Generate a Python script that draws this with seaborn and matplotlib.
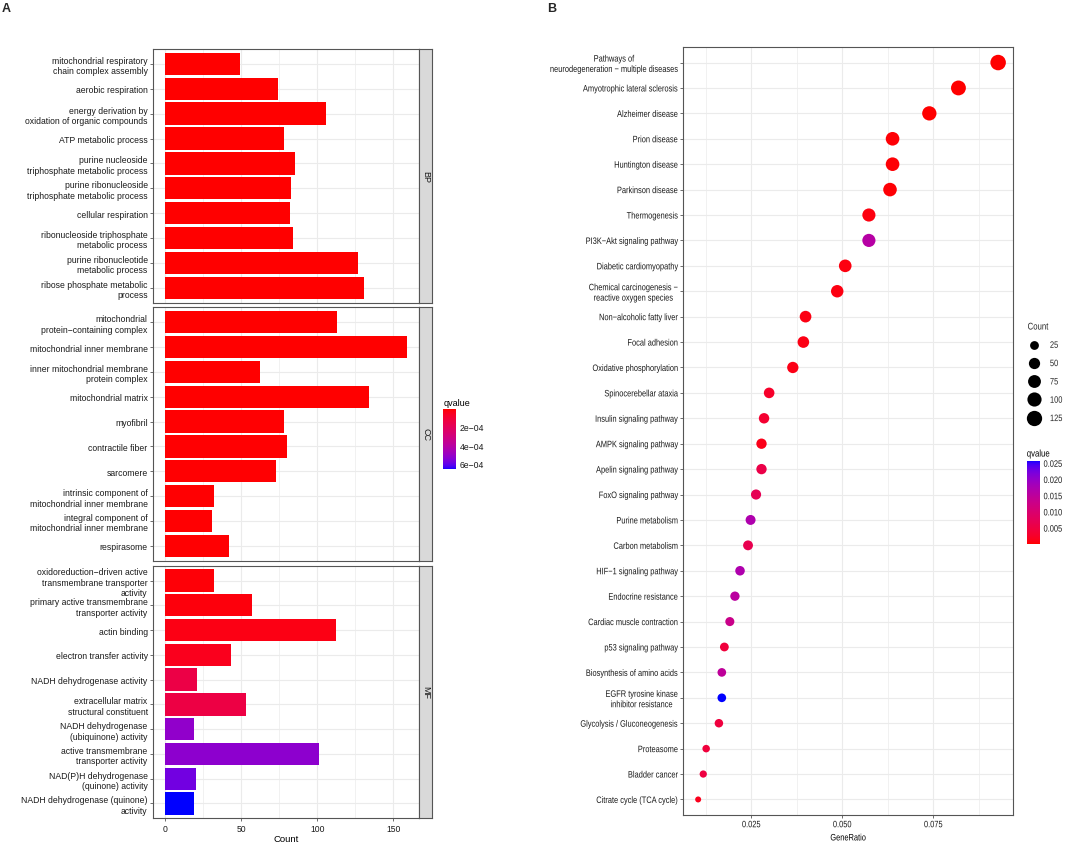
import numpy as np
import pandas as pd
import matplotlib
matplotlib.use("Agg")
import matplotlib.pyplot as plt
from matplotlib.colors import ListedColormap, Normalize
from matplotlib.lines import Line2D
from matplotlib.cm import ScalarMappable
from matplotlib.patheffects import AbstractPathEffect
from matplotlib.transforms import Affine2D
import matplotlib.ticker as mtick
import seaborn as sns

# ---- GO enrichment (panel A) ----
bp_terms = [
    "mitochondrial respiratory\nchain complex assembly",
    "aerobic respiration",
    "energy derivation by\noxidation of organic compounds",
    "ATP metabolic process",
    "purine nucleoside\ntriphosphate metabolic process",
    "purine ribonucleoside\ntriphosphate metabolic process",
    "cellular respiration",
    "ribonucleoside triphosphate\nmetabolic process",
    "purine ribonucleotide\nmetabolic process",
    "ribose phosphate metabolic\nprocess",
]
bp_counts = [49, 74, 106, 78, 85, 83, 82, 84, 127, 131]
bp_q = [1.2e-5, 1.0e-5, 1.0e-5, 1.1e-5, 1.1e-5, 1.1e-5, 1.0e-5, 1.1e-5, 1.0e-5, 1.0e-5]

cc_terms = [
    "mitochondrial\nprotein\u2212containing complex",
    "mitochondrial inner membrane",
    "inner mitochondrial membrane\nprotein complex",
    "mitochondrial matrix",
    "myofibril",
    "contractile fiber",
    "sarcomere",
    "intrinsic component of\nmitochondrial inner membrane",
    "integral component of\nmitochondrial inner membrane",
    "respirasome",
]
cc_counts = [113, 159, 62, 134, 78, 80, 73, 32, 31, 42]
cc_q = [1.0e-5, 1.0e-5, 1.2e-5, 1.0e-5, 1.3e-5, 1.3e-5, 1.4e-5, 1.5e-5, 1.5e-5, 1.3e-5]

mf_terms = [
    "oxidoreduction\u2212driven active\ntransmembrane transporter\nactivity",
    "primary active transmembrane\ntransporter activity",
    "actin binding",
    "electron transfer activity",
    "NADH dehydrogenase activity",
    "extracellular matrix\nstructural constituent",
    "NADH dehydrogenase\n(ubiquinone) activity",
    "active transmembrane\ntransporter activity",
    "NAD(P)H dehydrogenase\n(quinone) activity",
    "NADH dehydrogenase (quinone)\nactivity",
]
mf_counts = [32, 57, 112, 43, 21, 53, 19, 101, 20, 19]
mf_q = [2.0e-5, 2.5e-5, 3.5e-5, 5.0e-5, 1.45e-4, 1.4e-4, 5.2e-4, 5.3e-4, 5.8e-4, 6.6e-4]

go_q_ticks = [2e-4, 4e-4, 6e-4]

# ---- KEGG enrichment (panel B) ----
kegg_terms = [
    "Pathways of\nneurodegeneration \u2212 multiple diseases",
    "Amyotrophic lateral sclerosis",
    "Alzheimer disease",
    "Prion disease",
    "Huntington disease",
    "Parkinson disease",
    "Thermogenesis",
    "PI3K\u2212Akt signaling pathway",
    "Diabetic cardiomyopathy",
    "Chemical carcinogenesis \u2212\nreactive oxygen species",
    "Non\u2212alcoholic fatty liver",
    "Focal adhesion",
    "Oxidative phosphorylation",
    "Spinocerebellar ataxia",
    "Insulin signaling pathway",
    "AMPK signaling pathway",
    "Apelin signaling pathway",
    "FoxO signaling pathway",
    "Purine metabolism",
    "Carbon metabolism",
    "HIF\u22121 signaling pathway",
    "Endocrine resistance",
    "Cardiac muscle contraction",
    "p53 signaling pathway",
    "Biosynthesis of amino acids",
    "EGFR tyrosine kinase\ninhibitor resistance",
    "Glycolysis / Gluconeogenesis",
    "Proteasome",
    "Bladder cancer",
    "Citrate cycle (TCA cycle)",
]
kegg_ratio = [0.0928, 0.0819, 0.0739, 0.0638, 0.0638, 0.0631, 0.0573, 0.0573, 0.0508, 0.0486,
              0.0399, 0.0393, 0.0364, 0.0299, 0.0285, 0.0278, 0.0278, 0.0263, 0.0248, 0.0241,
              0.0219, 0.0205, 0.0191, 0.0176, 0.0169, 0.0169, 0.0161, 0.0126, 0.0118, 0.0104]
kegg_count = [130, 115, 103, 89, 89, 88, 80, 80, 71, 68,
              56, 55, 51, 42, 40, 39, 39, 37, 35, 34,
              31, 29, 27, 25, 24, 24, 23, 18, 17, 15]
kegg_q = [0.0001, 0.0002, 0.0002, 0.0004, 0.0004, 0.0004, 0.0008, 0.0160, 0.0008, 0.0009,
          0.0010, 0.0011, 0.0012, 0.0027, 0.0034, 0.0014, 0.0058, 0.0070, 0.0170, 0.0065,
          0.0170, 0.0155, 0.0130, 0.0045, 0.0148, 0.0258, 0.0047, 0.0045, 0.0050, 0.0016]

count_breaks = [25, 50, 75, 100, 125]
kegg_q_ticks = [0.005, 0.010, 0.015, 0.020, 0.025]


# red -> blue gradient interpolated in CIELAB (like ggplot2)
def srgb_to_lab(rgb):
    c = np.asarray(rgb, dtype=float)
    c = np.where(c <= 0.04045, c / 12.92, ((c + 0.055) / 1.055) ** 2.4)
    m = np.array([[0.4124, 0.3576, 0.1805], [0.2126, 0.7152, 0.0722], [0.0193, 0.1192, 0.9505]])
    xyz = m @ c / np.array([0.95047, 1.0, 1.08883])
    f = np.where(xyz > 0.008856, np.cbrt(xyz), 7.787 * xyz + 16 / 116)
    return np.array([116 * f[1] - 16, 500 * (f[0] - f[1]), 200 * (f[1] - f[2])])


def lab_to_srgb(lab):
    L, a, b = lab
    fy = (L + 16) / 116
    fx = fy + a / 500
    fz = fy - b / 200
    f = np.array([fx, fy, fz])
    xyz = np.where(f ** 3 > 0.008856, f ** 3, (f - 16 / 116) / 7.787)
    xyz = xyz * np.array([0.95047, 1.0, 1.08883])
    m_inv = np.array([[3.2406, -1.5372, -0.4986], [-0.9689, 1.8758, 0.0415], [0.0557, -0.2040, 1.0570]])
    c = m_inv @ xyz
    c = np.where(c <= 0.0031308, 12.92 * c, 1.055 * np.clip(c, 0, None) ** (1 / 2.4) - 0.055)
    return np.clip(c, 0, 1)


lab_red = srgb_to_lab([1, 0, 0])
lab_blue = srgb_to_lab([0, 0, 1])
red_blue = ListedColormap([lab_to_srgb(lab_red + t * (lab_blue - lab_red)) for t in np.linspace(0, 1, 256)])


# panel B text in the reference is horizontally condensed; squeeze glyph paths
class Squeeze(AbstractPathEffect):
    def __init__(self, sx=0.8, anchor="center"):
        super().__init__()
        self.sx = sx
        self.anchor = anchor

    def draw_path(self, renderer, gc, tpath, affine, rgbFace=None):
        if isinstance(self.anchor, str):
            ext = affine.transform_path(tpath).get_extents()
            x0 = ext.x0 if self.anchor == "left" else 0.5 * (ext.x0 + ext.x1)
        else:
            x0 = self.anchor
        squeeze = Affine2D().translate(-x0, 0).scale(self.sx, 1).translate(x0, 0)
        renderer.draw_path(gc, tpath, affine + squeeze, rgbFace)


sns.set_style("white")
plt.rcParams["font.family"] = ["Liberation Sans", "DejaVu Sans"]
plt.rcParams["axes.unicode_minus"] = True

TXT = "#1A1A1A"
BORDER = "#555555"
GRID = "#EBEBEB"
FS = 6.2
FSB = 6.7
SX = 0.8

fig = plt.figure(figsize=(10.65, 8.45), dpi=100)

# ---------------- Panel A ----------------
go_norm = Normalize(vmin=1.0e-5, vmax=6.6e-4)
facets = [
    ("BP", bp_terms, bp_counts, bp_q, 50.0, 303.7),
    ("CC", cc_terms, cc_counts, cc_q, 308.3, 561.7),
    ("MF", mf_terms, mf_counts, mf_q, 566.7, 819.3),
]
W, H = 1065.0, 845.0
for i, (name, terms, counts, qs, top, bot) in enumerate(facets):
    ax = fig.add_axes([153.3 / W, 1 - bot / H, 265.7 / W, (bot - top) / H])
    df = pd.DataFrame({"term": terms, "Count": counts, "qvalue": qs})
    pal = {t: red_blue(go_norm(q)) for t, q in zip(terms, qs)}
    sns.barplot(data=df, x="Count", y="term", hue="term", palette=pal, legend=False,
                width=0.9, saturation=1, linewidth=0, orient="h", ax=ax, zorder=3)
    ax.set_xlim(-7.95, 166.95)
    ax.set_ylim(9.6, -0.6)
    ax.set_xticks([0, 50, 100, 150])
    ax.xaxis.set_minor_locator(mtick.FixedLocator([25, 75, 125]))
    ax.grid(True, which="major", color=GRID, lw=0.8, zorder=0)
    ax.grid(True, which="minor", axis="x", color=GRID, lw=0.5, zorder=0)
    ax.set_axisbelow(True)
    ax.set_ylabel("")
    ax.tick_params(axis="y", left=True, length=2.5, width=0.5, color="#333333",
                   labelsize=FS, labelcolor=TXT, pad=1.5)
    ax.tick_params(axis="x", which="minor", bottom=False)
    if i < 2:
        ax.tick_params(axis="x", bottom=False, labelbottom=False)
        ax.set_xlabel("")
    else:
        ax.tick_params(axis="x", bottom=True, length=2.5, width=0.5, color="#333333",
                       labelsize=FS, labelcolor=TXT, pad=1.5)
        ax.set_xlabel("Count", fontsize=6.8, color="black", labelpad=1)
    for sp in ax.spines.values():
        sp.set_color(BORDER)
        sp.set_linewidth(0.8)
    # facet strip on the right
    sax = fig.add_axes([419.0 / W, 1 - bot / H, 13.0 / W, (bot - top) / H])
    sax.set_facecolor("#D9D9D9")
    sax.set_xticks([])
    sax.set_yticks([])
    for sp in sax.spines.values():
        sp.set_color(BORDER)
        sp.set_linewidth(0.8)
    sax.text(0.5, 0.5, name, rotation=-90, ha="center", va="center",
             fontsize=6.5, color="#1A1A1A", transform=sax.transAxes)

# panel A colour legend (low values at top)
cax1 = fig.add_axes([443.3 / W, 1 - 470.3 / H, 12.7 / W, 60.0 / H])
cb1 = fig.colorbar(ScalarMappable(norm=go_norm, cmap=red_blue), cax=cax1)
cb1.outline.set_visible(False)
cax1.invert_yaxis()
cb1.set_ticks(go_q_ticks)
cb1.set_ticklabels(["2e\u221204", "4e\u221204", "6e\u221204"])
cax1.tick_params(direction="in", color="white", length=2.5, width=0.6,
                 labelsize=FS, labelcolor=TXT, pad=2.5)
cax1.set_title("qvalue", fontsize=6.5, loc="left", pad=3, color="black")

# ---------------- Panel B ----------------
kegg_norm = Normalize(vmin=0.0001, vmax=0.0258)
cmin, cmax = min(kegg_count), max(kegg_count)


def dot_diam(c):
    # diameter in px, area scaled like ggplot scale_size
    return 6.0 + 9.5 * np.sqrt((c - cmin) / (cmax - cmin))


size_map = {c: (dot_diam(c) * 0.72) ** 2 for c in sorted(set(kegg_count))}

axb = fig.add_axes([683.3 / W, 1 - 815.7 / H, 329.4 / W, 767.4 / H])
kdf = pd.DataFrame({"term": kegg_terms, "GeneRatio": kegg_ratio,
                    "Count": kegg_count, "qvalue": kegg_q})
sns.scatterplot(data=kdf, x="GeneRatio", y="term", hue="qvalue", palette=red_blue,
                hue_norm=kegg_norm, size="Count", sizes=size_map, legend=False,
                edgecolor="none", linewidth=0, ax=axb, zorder=3)
axb.set_ylim(29.6, -0.6)
axb.set_xlim(0.00632, 0.0968)
axb.set_xticks([0.025, 0.050, 0.075])
axb.xaxis.set_major_formatter(mtick.FormatStrFormatter("%.3f"))
axb.xaxis.set_minor_locator(mtick.FixedLocator([0.0125, 0.0375, 0.0625, 0.0875]))
axb.grid(True, which="major", color=GRID, lw=0.8, zorder=0)
axb.grid(True, which="minor", axis="x", color=GRID, lw=0.5, zorder=0)
axb.set_axisbelow(True)
axb.set_ylabel("")
xl = axb.set_xlabel("GeneRatio", fontsize=FSB, color="black", labelpad=3)
xl.set_path_effects([Squeeze(SX)])
axb.tick_params(axis="both", which="major", left=True, bottom=True, length=2.5, width=0.5,
                color="#333333", labelsize=FSB, labelcolor=TXT, pad=1.5)
axb.tick_params(axis="x", which="minor", bottom=False)
# right edge of the y tick labels in pixels: axes left - tick length - pad
y_label_edge = 683.3 - (2.5 + 1.5) * 100 / 72
for lab in axb.get_yticklabels():
    lab.set_multialignment("center")
    lab.set_path_effects([Squeeze(SX, y_label_edge)])
for lab in axb.get_xticklabels():
    lab.set_path_effects([Squeeze(SX)])
for sp in axb.spines.values():
    sp.set_color(BORDER)
    sp.set_linewidth(0.8)

# size legend
handles = [Line2D([], [], marker="o", ls="", color="black", markeredgewidth=0,
                  markersize=dot_diam(c) * 0.72) for c in count_breaks]
leg = fig.legend(handles, [str(c) for c in count_breaks], title="Count", loc="upper left",
                 bbox_to_anchor=(1021 / W, 1 - 316 / H), frameon=False,
                 fontsize=FSB, title_fontsize=7.0,
                 labelspacing=1.0, handletextpad=1.0, borderpad=0.2,
                 handlelength=1.4, alignment="left")
for t in leg.get_texts() + [leg.get_title()]:
    t.set_path_effects([Squeeze(SX, "left")])

# qvalue colour legend
cax2 = fig.add_axes([1026.7 / W, 1 - 545.0 / H, 13.3 / W, 83.3 / H])
cb2 = fig.colorbar(ScalarMappable(norm=kegg_norm, cmap=red_blue), cax=cax2)
cb2.outline.set_visible(False)
cb2.set_ticks(kegg_q_ticks)
cb2.set_ticklabels([f"{t:.3f}" for t in kegg_q_ticks])
cax2.tick_params(direction="in", color="white", length=2.5, width=0.6,
                 labelsize=FSB, labelcolor=TXT, pad=2.5)
for lab in cax2.get_yticklabels():
    lab.set_path_effects([Squeeze(SX, "left")])
ct = cax2.set_title("qvalue", fontsize=7.0, loc="left", pad=3, color="black")
ct.set_path_effects([Squeeze(SX, "left")])

# panel letters
fig.text(2 / W, 1 - 3 / H, "A", fontsize=9, fontweight="bold", va="top", ha="left")
fig.text(547 / W, 1 - 3 / H, "B", fontsize=9, fontweight="bold", va="top", ha="left")

fig.savefig("out.png", dpi=100)
